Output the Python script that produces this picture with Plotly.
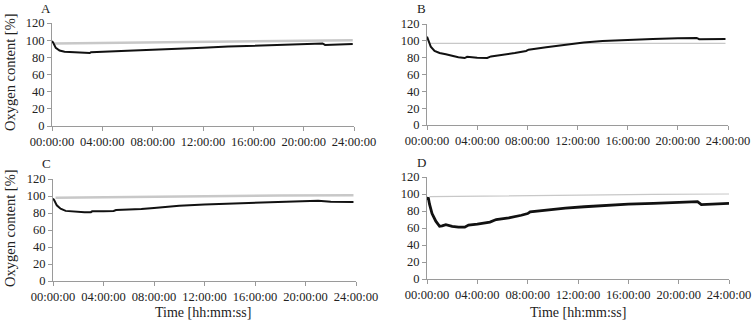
import plotly.graph_objects as go

# ---- data (time in hours, oxygen content in %) ----
t_A = [0, 0.1, 0.3, 0.6, 1.0, 1.5, 2.0, 2.5, 3.0, 3.1, 4.0, 5.0, 5.1, 6.0, 7.0, 7.9, 8.0, 10.0, 12.0, 14.0, 16.0, 18.0, 20.0, 21.5, 21.7, 22.5, 23.9]
o_A = [99, 97, 91, 88, 86.5, 86, 85.5, 85, 85, 86, 86.3, 86.7, 87.5, 87.8, 88.2, 88.6, 89.3, 90.2, 91.3, 92.5, 93.6, 94.6, 95.5, 96.2, 94.5, 94.8, 95.5]
g_A = [96, 97, 98, 99, 100]
gt_A = [0.2, 6, 12, 18, 23.9]

t_B = [0, 0.1, 0.3, 0.6, 1.0, 1.5, 2.0, 2.5, 3.0, 3.2, 4.0, 4.8, 5.1, 6.0, 7.0, 7.9, 8.1, 9.5, 11.0, 12.5, 14.0, 16.0, 18.0, 20.0, 21.5, 21.7, 23.8]
o_B = [105, 100, 93, 88, 85.5, 84, 82, 80.5, 79.5, 81, 80, 79.7, 81.5, 83, 85.5, 88, 89.5, 92.5, 95.5, 98, 99.8, 101.3, 102.2, 103, 103.5, 102, 102.2]
g_B = [97, 97, 97, 97]
gt_B = [0.2, 8, 16, 23.8]

t_C = [0, 0.1, 0.3, 0.6, 1.0, 1.5, 2.0, 2.5, 3.0, 3.1, 4.0, 4.8, 5.0, 6.0, 7.0, 8.0, 9.0, 10.0, 12.0, 14.0, 16.0, 18.0, 20.0, 21.0, 22.0, 23.8]
o_C = [97, 95, 89, 85, 82.5, 82, 81, 80.8, 81, 82, 82.2, 82.4, 83.5, 84, 84.6, 86, 87.5, 88.5, 90, 91, 92.4, 93.3, 94, 94.4, 93.2, 93]
g_C = [98, 99, 100, 100.5, 101]
gt_C = [0.2, 6, 12, 18, 23.8]

t_D = [0, 0.1, 0.2, 0.4, 0.7, 1.0, 1.2, 1.5, 2.0, 2.5, 3.0, 3.3, 4.0, 5.0, 5.5, 6.5, 7.5, 8.0, 8.2, 9.5, 11.0, 12.5, 14.0, 16.0, 18.0, 20.0, 21.5, 21.8, 22.5, 24.0]
o_D = [93, 96, 88, 77, 68, 62, 62.5, 64, 62, 61, 61, 63.5, 64.5, 67, 70, 72, 75, 77, 79, 81.5, 83.5, 85, 86.5, 88, 89, 90, 91, 87.5, 88, 89]
g_D = [97, 98, 99, 99.5, 100]
gt_D = [0.2, 6, 12, 18, 24]

panel_labels = ["A", "B", "C", "D"]
xtick_vals = [0, 4, 8, 12, 16, 20, 24]
xtick_text = ["00:00:00", "04:00:00", "08:00:00", "12:00:00", "16:00:00", "20:00:00", "24:00:00"]
ytick_vals = [0, 20, 40, 60, 80, 100, 120]
y_title = "Oxygen content [%]"
x_title = "Time [hh:mm:ss]"

FONT = "Liberation Serif"
W, H = 756, 324


def px(p):
    return p / W


def py(p):
    return 1 - p / H


panels = [
    (t_A, o_A, gt_A, g_A, (52, 354), (23, 126), 2.5, 2.0),
    (t_B, o_B, gt_B, g_B, (427, 728), (24, 125), 1.2, 2.0),
    (t_C, o_C, gt_C, g_C, (53, 356), (179, 281), 2.5, 2.0),
    (t_D, o_D, gt_D, g_D, (427, 729), (177, 279), 1.2, 2.8),
]

fig = go.Figure()
layout = {}
for i, (t, o, gt, g, (x0, x1), (ytop, ybot), gw, bw) in enumerate(panels):
    n = "" if i == 0 else str(i + 1)
    xa, ya = "x" + n, "y" + n
    fig.add_trace(go.Scatter(x=gt, y=g, mode="lines", line=dict(color="#c8c8c8", width=gw),
                             xaxis=xa, yaxis=ya, showlegend=False, hoverinfo="skip"))
    fig.add_trace(go.Scatter(x=t, y=o, mode="lines", line=dict(color="#111111", width=bw),
                             xaxis=xa, yaxis=ya, showlegend=False))
    common = dict(showgrid=False, zeroline=False, showline=True, linecolor="#9a9a9a", linewidth=1,
                  ticks="outside", tickcolor="#9a9a9a", ticklen=4, tickwidth=1, automargin=False,
                  tickfont=dict(family=FONT, size=12.5, color="#222"))
    layout["xaxis" + n] = dict(common, domain=[px(x0), px(x1)], range=[0, 24], anchor=ya,
                               tickvals=xtick_vals, ticktext=xtick_text)
    layout["yaxis" + n] = dict(common, domain=[py(ybot), py(ytop)], range=[0, 120], anchor=xa,
                               tickvals=ytick_vals)

fig.update_layout(**layout)

ann = []
for lab, x, y in zip(panel_labels, [46, 421, 46, 421], [8, 8, 163, 162]):
    ann.append(dict(text=lab, x=px(x), y=py(y), xref="paper", yref="paper", showarrow=False,
                    xanchor="center", yanchor="middle", font=dict(family=FONT, size=13, color="#222")))
for y in [72, 228]:
    ann.append(dict(text=y_title, x=px(10), y=py(y), xref="paper", yref="paper", showarrow=False,
                    textangle=-90, xanchor="center", yanchor="middle",
                    font=dict(family=FONT, size=14.5, color="#222")))
for x in [203, 578]:
    ann.append(dict(text=x_title, x=px(x), y=py(312), xref="paper", yref="paper", showarrow=False,
                    xanchor="center", yanchor="middle", font=dict(family=FONT, size=14, color="#222")))

fig.update_layout(width=W, height=H, margin=dict(l=0, r=0, t=0, b=0, autoexpand=False),
                  paper_bgcolor="white", plot_bgcolor="white", annotations=ann)
fig.write_html("out.html", config={"displayModeBar": False},
               post_script="document.body.style.margin='0px';document.body.style.padding='0px';document.body.style.overflow='hidden';")
